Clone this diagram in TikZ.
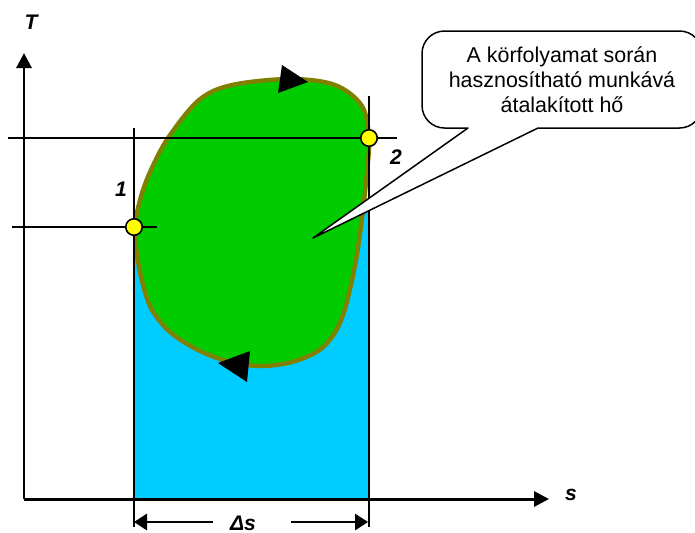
\documentclass[tikz,border=0pt]{standalone}
\usepackage{fontspec}
\setmainfont{Liberation Sans}
\usetikzlibrary{arrows.meta,positioning,calc}
\definecolor{heatblue}{HTML}{00CCFF}
\definecolor{loopgreen}{HTML}{00CC00}
\definecolor{loopedge}{HTML}{808000}
\definecolor{pointyellow}{HTML}{FFFF00}
\tikzset{
  axisline/.style={line width=1.7pt,-{Triangle[length=3mm,width=3mm]}},
  gridline/.style={line width=0.85pt},
  edgeline/.style={line width=1.1pt},
  dimarrow/.style={line width=0.85pt,-{Triangle[length=2.6mm,width=3.3mm]}},
  statepoint/.style={circle,draw,line width=0.9pt,fill=pointyellow,minimum size=0.33cm,inner sep=0pt},
  statelabel/.style={font=\bfseries\itshape\fontsize{12}{12}\selectfont,inner sep=0pt},
  bubbletext/.style={font=\fontsize{12.2}{14.2}\selectfont,align=center,inner sep=0pt}
}
\begin{document}
\begin{tikzpicture}[x=0.02cm,y=-0.02cm,line join=round]
    \useasboundingbox (0,0) rectangle (695,532);
    % corners of the diagram
    \coordinate (origin) at (24,499);
    \coordinate (ttop) at (24,53);
    \coordinate (send) at (549,499);
    % heat below the cycle
    \fill[heatblue] (134,240) -- (369,200) -- (369,499) -- (134,499) -- cycle;
    % the cycle
    \filldraw[fill=loopgreen,draw=loopedge,line width=2.5pt] plot[smooth cycle,tension=0.55] coordinates {
      (135,227) (137,255) (143,285) (152,310) (170,332) (198,350) (230,362) (262,366)
      (292,362) (318,351) (334,334) (344,312) (352,280) (358,248) (363,210) (367,172)
      (369,138) (362,106) (335,85) (290,79) (232,85) (199,100) (168,138) (150,172) (140,200)};
    \fill (308,82) -- (282,65) -- (278,93) -- cycle;
    \fill (218,363) -- (250,351) -- (247,382) -- cycle;
    % lines through the two states
    \draw[gridline] (8,138) -- (397,138);
    \draw[gridline] (12,227) -- (157,227);
    \draw[gridline] (134,128) -- (134,527);
    \draw[edgeline] (369,96) -- (369,527);
    % axes
    \draw[axisline] (origin) -- (ttop);
    \draw[axisline] (origin) -- (send);
    \node[statelabel] (tlabel) at (31,22) {T};
    \node[statelabel] (slabel) at (571,495) {s};
    % states
    \node[statepoint] (p1) at (134,227) {};
    \node[statepoint] (p2) at (369,138) {};
    \node[statelabel] (l1) at (121,189) {1};
    \node[statelabel] (l2) at (396,157) {2};
    % width of the heat strip
    \node[statelabel,anchor=base] (dslabel) at (243,530) {Δs};
    \coordinate (dsl) at (213,522);
    \coordinate (dsr) at (291,522);
    \draw[dimarrow] (dsl) -- (134,522);
    \draw[dimarrow] (dsr) -- (368,522);
    % callout
    \coordinate (tip) at (313,238);
    \draw[line width=0.85pt,fill=white] (468,128) -- (tip) -- (538,128)
      [rounded corners=0.45cm] -- (702,128) -- (702,31) -- (422,31) -- (422,128) [sharp corners] -- cycle;
    \node[bubbletext] (note) at (562,80) {A körfolyamat során\\hasznosítható munkává\\átalakított hő};
  \end{tikzpicture}
\end{document}
